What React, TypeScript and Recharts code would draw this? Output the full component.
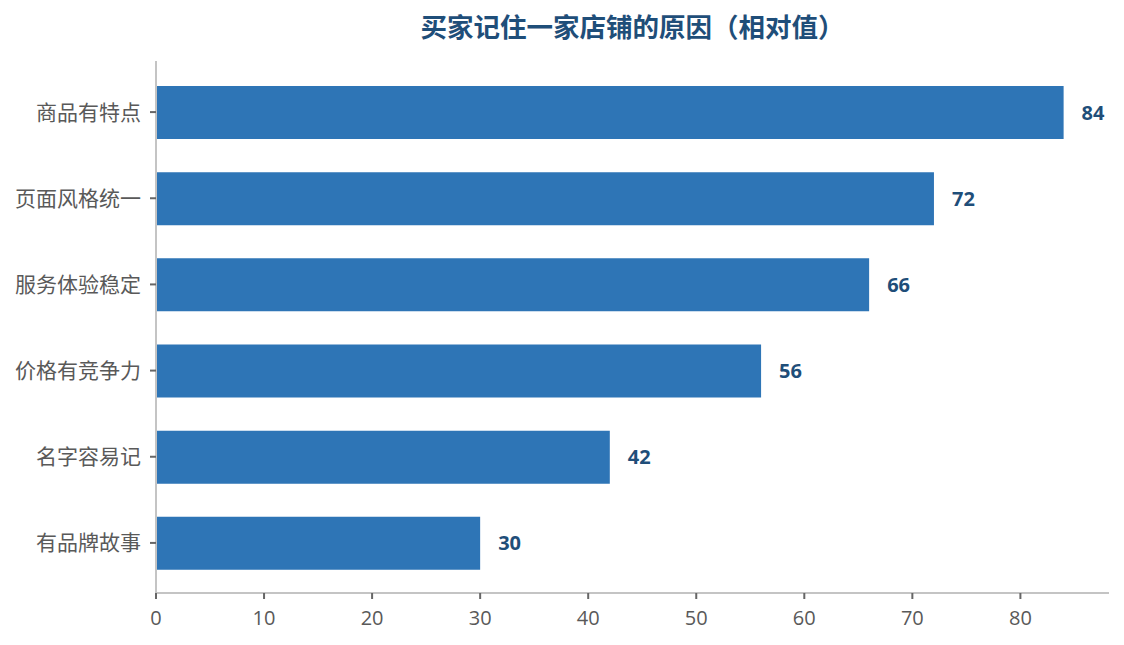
import { BarChart, Bar, XAxis, YAxis, LabelList } from "recharts";

const reasons = ["商品有特点", "页面风格统一", "服务体验稳定", "价格有竞争力", "名字容易记", "有品牌故事"];
const scores = [84, 72, 66, 56, 42, 30];
const xTicks = [0, 10, 20, 30, 40, 50, 60, 70, 80];

const data = reasons.map((reason, i) => ({ reason, score: scores[i] }));

const FONT = '"Open Sans", "Noto Sans CJK SC", sans-serif';

export default function App() {
  return (
    <div style={{ position: "relative", width: 1124, height: 645, fontFamily: FONT }}>
      <style>{`body{margin:0}`}</style>
      <div
        style={{
          position: "absolute",
          left: 156,
          width: 953,
          top: 8,
          textAlign: "center",
          fontSize: 26.5,
          fontWeight: 700,
          color: "#1f4e79",
          lineHeight: "38px",
        }}
      >
        买家记住一家店铺的原因（相对值）
      </div>
      <BarChart
        width={1124}
        height={645}
        data={data}
        layout="vertical"
        margin={{ top: 61, right: 15, bottom: 12, left: 0 }}
      >
        <XAxis
          type="number"
          domain={[0, 88.2]}
          ticks={xTicks}
          height={40}
          axisLine={{ stroke: "#c4c4c4", strokeWidth: 2 }}
          tickLine={{ stroke: "#666", strokeWidth: 2 }}
          tickSize={6}
          tickMargin={12}
          tick={{ fill: "#595959", fontSize: 20, fontFamily: FONT }}
        />
        <YAxis
          type="category"
          dataKey="reason"
          width={156}
          padding={{ top: 8, bottom: 7 }}
          axisLine={{ stroke: "#c4c4c4", strokeWidth: 2 }}
          tickLine={{ stroke: "#666", strokeWidth: 2 }}
          tickSize={6}
          tickMargin={9}
          tick={{ fill: "#595959", fontSize: 21, fontFamily: FONT }}
        />
        <Bar dataKey="score" fill="#2e75b6" barSize={53} isAnimationActive={false}>
          <LabelList
            dataKey="score"
            position="right"
            offset={18}
            fill="#1f4e79"
            fontSize={20}
            fontWeight={700}
            fontFamily={FONT}
          />
        </Bar>
      </BarChart>
    </div>
  );
}
